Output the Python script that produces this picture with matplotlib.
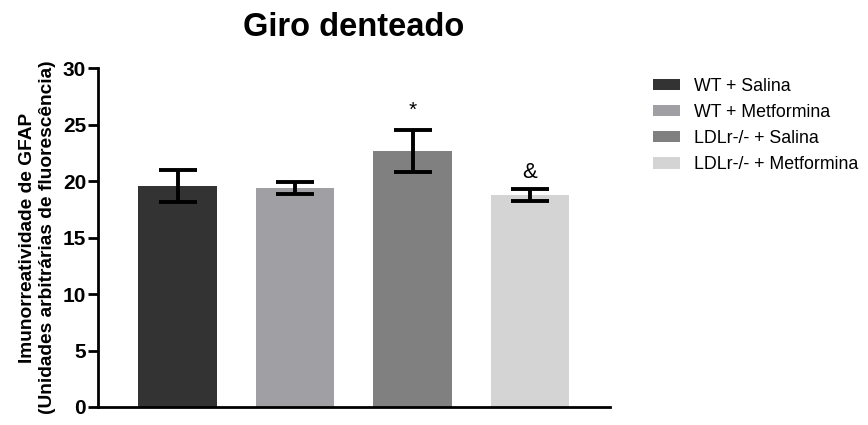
import matplotlib
matplotlib.use('Agg')
import matplotlib.pyplot as plt
import numpy as np

# dados
grupos = ['WT + Salina', 'WT + Metformina', 'LDLr-/- + Salina', 'LDLr-/- + Metformina']
medias = [19.6, 19.4, 22.7, 18.8]
erros = [1.4, 0.55, 1.85, 0.55]
cores = ['#333333', '#a0a0a4', '#808080', '#d4d4d4']
marcas = ['', '', '*', '&']

plt.rcParams['font.family'] = ['Liberation Sans', 'DejaVu Sans']

fig = plt.figure(figsize=(8.68, 4.25), dpi=100)
ax = fig.add_axes([98/868, 18/425, (610-98)/868, (407-68.3)/425])

x = np.arange(len(grupos))
barras = ax.bar(x, medias, width=0.67, color=cores, label=grupos)
ax.errorbar(x, medias, yerr=erros, fmt='none', ecolor='black',
            elinewidth=2.8, capsize=14, capthick=2.8)

# marcas de significância
for xi, m, e, mk in zip(x, medias, erros, marcas):
    if mk == '*':
        ax.text(xi, m + e + 1.7, mk, ha='center', va='center', fontsize=15)
    elif mk == '&':
        ax.text(xi, m + e + 1.4, mk, ha='center', va='center', fontsize=16)

ax.set_xlim(-0.677, 3.68)
ax.set_ylim(0, 30)
ax.set_yticks([0, 5, 10, 15, 20, 25, 30])
ax.set_xticks([])
for lab in ax.get_yticklabels():
    lab.set_fontweight('bold')
ax.tick_params(axis='y', labelsize=15, width=2, length=7, pad=1.5)

ax.spines['top'].set_visible(False)
ax.spines['right'].set_visible(False)
ax.spines['left'].set_linewidth(2)
ax.spines['bottom'].set_linewidth(2)

ax.set_ylabel('Imunorreatividade de GFAP\n(Unidades arbitrárias de fluorescência)',
              fontsize=13.8, fontweight='bold', labelpad=5, linespacing=1.25)
ax.set_title('Giro denteado', fontsize=23.5, fontweight='bold', pad=23)

ax.legend(handles=list(barras), labels=grupos, loc='upper left',
          bbox_to_anchor=(1.053, 1.02), frameon=False, fontsize=12.8,
          handlelength=1.5, handleheight=0.6, labelspacing=0.52, handletextpad=0.8)

plt.savefig('out.png', dpi=100)
plt.close()
